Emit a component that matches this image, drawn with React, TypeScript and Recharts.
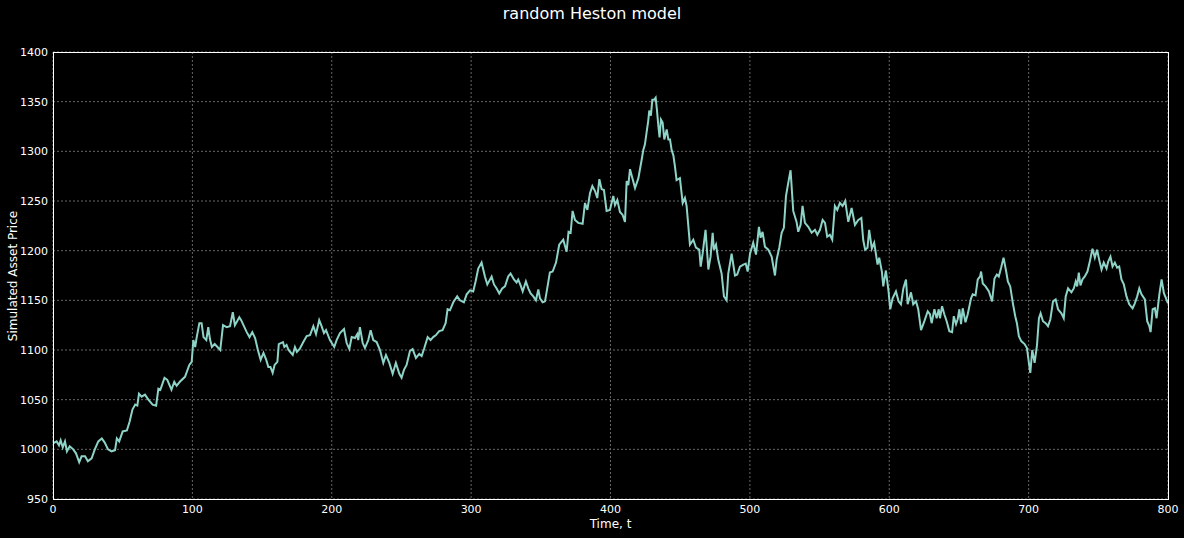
import React from 'react';
import { LineChart, Line, XAxis, YAxis, CartesianGrid } from 'recharts';

// time steps and simulated prices
const TIMES = [
  0, 2.6, 4.3, 5.5, 7, 8.6, 10, 12, 14.5, 16.5, 18.8, 20.5, 23, 25, 27.7, 30, 32.5, 35, 37, 39.5,
  42, 44.5, 45.8, 47.5, 50, 53, 55, 57, 59, 60.5, 61.7, 63.6, 66, 68.4, 71.5, 74, 75.6, 77, 80, 82,
  85, 87, 88.7, 91, 94.7, 97.8, 99.5, 100.7, 102, 103, 105, 106.6, 108, 110, 111.4, 112.6, 114, 116, 118, 120,
  122, 124.6, 127, 129, 130.5, 133.7, 135, 139, 141, 143, 145, 147, 149, 151, 153, 154.5, 156, 157.6, 159, 161,
  162, 165, 166, 167.6, 169, 172, 173.6, 175, 177, 179.6, 182, 184.4, 186.8, 188.7, 191, 192.7, 194.4, 195.9, 198.7, 201.8,
  203.5, 205.9, 208.8, 210.7, 212.6, 214.3, 216.7, 218.3, 219, 220.2, 222.2, 223.8, 226.2, 227.9, 229.8, 232.2, 234.6, 237, 238.9, 241.3,
  243.7, 246, 248.5, 250.1, 251.8, 253.7, 256.1, 258, 260.4, 262.8, 264.5, 266.2, 268.8, 270.9, 272.8, 274.8, 277.1, 279.5, 281.7, 283.1,
  284.8, 287.2, 290, 292, 294.8, 296.8, 299.2, 301.5, 303.2, 305.1, 307.5, 309.9, 311.6, 314.7, 316.4, 318.3, 320.2, 322.3, 324.3, 326.6,
  328.3, 330.7, 332.6, 333.8, 335.5, 337, 339.3, 341, 342.7, 344.6, 346.5, 348.2, 349.4, 351.3, 353, 354.6, 356.5, 358.5, 360.9, 363.2,
  366.1, 368.5, 369.9, 371.4, 372.8, 374.5, 376.9, 380, 381.7, 383.4, 385.3, 387, 388.9, 390.5, 392, 393.6, 395.3, 397.2, 399.6, 402,
  403.2, 404.9, 406.8, 408.7, 410.4, 411.6, 412.8, 414, 417.6, 420, 422.3, 423.5, 424.7, 425.9, 427.1, 427.8, 429, 430, 431.4, 432.4,
  433.3, 434.3, 435.2, 436.2, 437.4, 438.6, 440.3, 441.5, 442.7, 443.9, 445.1, 446.3, 447.4, 449.8, 451.8, 453.4, 454.6, 457, 459.4, 461.3,
  463.7, 464.7, 466.1, 468.2, 470.2, 471.8, 473.3, 474.2, 475.7, 477.3, 479.7, 481.4, 483.3, 484.5, 486.9, 489.3, 490.9, 492.9, 495.3, 497,
  498.4, 500.1, 502.4, 504.4, 506.5, 507.7, 509.1, 510.8, 513.2, 515.6, 518, 519.2, 521.1, 522.8, 524.4, 525.9, 527.5, 529.2, 531.1, 533.5,
  534.7, 536.4, 537.8, 539.5, 541.9, 544.3, 546.7, 548.4, 550.3, 552.2, 553.9, 555.5, 557.4, 559.1, 561, 562.7, 564.6, 566.5, 568.4, 570.6,
  573, 575.4, 577.8, 580, 581.3, 582.7, 584.4, 585.6, 587.5, 589.2, 591.6, 592.8, 594.7, 595.7, 597.6, 599.5, 600.7, 602.4, 604.8, 606.7,
  608.4, 610.1, 612, 613.2, 615.6, 617.2, 619.2, 620.8, 622.8, 625.2, 627.6, 629.2, 630.4, 632.4, 634, 635.5, 636.4, 637.9, 639.5, 641.2,
  643.1, 645.1, 646.3, 647.9, 649.1, 650.3, 651.5, 652.7, 654.7, 656.3, 658.7, 659.9, 661.9, 663.5, 665.2, 665.9, 667.1, 669.1, 671.5, 673.8,
  675.5, 677.2, 678.6, 680.3, 682, 683.9, 685.1, 686.8, 688.7, 690.4, 691.6, 693, 694.7, 697.1, 698.8, 700.2, 701.2, 702.6, 704.3, 706,
  707.4, 708.6, 710.3, 712.2, 713.9, 715.6, 717.5, 719.4, 721.1, 723.5, 725.2, 726.6, 728.3, 730.7, 732.4, 733.8, 734.8, 736, 737.2, 738.6,
  740.3, 742.2, 743.9, 745.8, 747.5, 749.1, 750.6, 752.3, 753.9, 755.9, 757.1, 758.7, 760.2, 761.9, 763.5, 765, 766.6, 768.3, 770.2, 772.2,
  774.6, 776.2, 777.9, 779.4, 781, 783.4, 785.1, 786.6, 787.5, 789, 790.6, 791.8, 793.8, 795.4, 797.1, 798.6, 800,
];

const PRICES = [
  1006, 1008, 1004, 1009, 1002, 1008, 998, 1003, 1000, 996, 987, 993, 993, 988, 991, 1000, 1008, 1011, 1007, 1000,
  998, 999, 1011, 1008, 1018, 1019, 1028, 1040, 1045, 1044, 1056, 1053, 1055, 1050, 1045, 1044, 1061, 1060, 1072, 1070,
  1060, 1068, 1064, 1068, 1073, 1085, 1088, 1110, 1103, 1112, 1127, 1127, 1113, 1110, 1123, 1111, 1103, 1106, 1103, 1100,
  1125, 1123, 1124, 1138, 1125, 1133, 1130, 1118, 1113, 1118, 1112, 1100, 1090, 1097, 1090, 1083, 1083, 1077, 1085, 1088,
  1106, 1108, 1103, 1105, 1100, 1095, 1103, 1098, 1101, 1108, 1114, 1115, 1124, 1116, 1130, 1124, 1117, 1120, 1110, 1103,
  1110, 1117, 1121, 1107, 1101, 1113, 1112, 1116, 1110, 1123, 1107, 1102, 1110, 1120, 1110, 1108, 1100, 1087, 1095, 1087,
  1076, 1087, 1076, 1072, 1080, 1085, 1099, 1101, 1092, 1096, 1094, 1101, 1113, 1110, 1113, 1115, 1119, 1120, 1127, 1141,
  1140, 1148, 1154, 1150, 1148, 1156, 1160, 1159, 1169, 1182, 1188, 1174, 1166, 1174, 1166, 1162, 1157, 1162, 1164, 1174,
  1177, 1171, 1168, 1171, 1165, 1159, 1169, 1162, 1157, 1154, 1150, 1161, 1152, 1148, 1149, 1162, 1178, 1179, 1188, 1206,
  1211, 1199, 1219, 1218, 1240, 1231, 1228, 1227, 1248, 1241, 1258, 1265, 1260, 1253, 1272, 1262, 1261, 1240, 1241, 1255,
  1246, 1251, 1239, 1236, 1229, 1270, 1266, 1282, 1263, 1273, 1291, 1301, 1307, 1319, 1331, 1341, 1336, 1352, 1352, 1354,
  1342, 1326, 1314, 1332, 1329, 1312, 1322, 1312, 1312, 1301, 1296, 1284, 1271, 1273, 1248, 1253, 1245, 1206, 1211, 1203,
  1201, 1184, 1197, 1221, 1181, 1194, 1218, 1201, 1206, 1191, 1177, 1154, 1150, 1177, 1197, 1175, 1176, 1184, 1186, 1187,
  1179, 1197, 1208, 1196, 1224, 1213, 1219, 1204, 1201, 1194, 1175, 1191, 1203, 1218, 1223, 1255, 1268, 1281, 1240, 1229,
  1219, 1226, 1245, 1228, 1224, 1218, 1221, 1216, 1221, 1231, 1228, 1214, 1216, 1211, 1245, 1241, 1248, 1245, 1250, 1229,
  1243, 1226, 1231, 1233, 1211, 1201, 1203, 1221, 1202, 1208, 1186, 1193, 1179, 1164, 1180, 1159, 1141, 1152, 1159, 1149,
  1146, 1162, 1171, 1146, 1158, 1146, 1149, 1141, 1120, 1129, 1139, 1136, 1127, 1141, 1132, 1141, 1132, 1144, 1136, 1129,
  1119, 1118, 1134, 1126, 1131, 1141, 1126, 1142, 1128, 1136, 1152, 1156, 1155, 1171, 1174, 1179, 1167, 1164, 1159, 1149,
  1172, 1176, 1174, 1183, 1193, 1179, 1169, 1164, 1147, 1134, 1127, 1114, 1109, 1106, 1102, 1087, 1077, 1100, 1087, 1105,
  1132, 1137, 1129, 1127, 1124, 1131, 1149, 1151, 1141, 1137, 1132, 1154, 1162, 1158, 1162, 1169, 1164, 1178, 1165, 1171,
  1174, 1179, 1189, 1202, 1193, 1201, 1191, 1181, 1188, 1182, 1189, 1194, 1184, 1188, 1183, 1184, 1171, 1166, 1154, 1146,
  1142, 1147, 1154, 1162, 1156, 1151, 1129, 1124, 1118, 1141, 1142, 1132, 1156, 1171, 1157, 1152, 1147,
];

const X_TICKS = [0, 100, 200, 300, 400, 500, 600, 700, 800];
const Y_TICKS = [950, 1000, 1050, 1100, 1150, 1200, 1250, 1300, 1350, 1400];

const data = TIMES.map((t, i) => ({ t, price: PRICES[i] }));

const FONT = '"DejaVu Sans", sans-serif';
const tickStyle = { fill: '#ffffff', fontSize: 11, fontFamily: FONT };

export default function App() {
  return (
    <div style={{ position: 'absolute', left: 0, top: 0, width: 1184, height: 538, background: '#000', fontFamily: FONT }}>
      <div style={{ position: 'absolute', left: 0, width: 1184, top: 4, textAlign: 'center', color: '#fff', fontSize: 16 }}>
        random Heston model
      </div>
      <LineChart width={1184} height={538} data={data} margin={{ top: 52, right: 16, bottom: 9, left: 8 }}>
        <CartesianGrid stroke="#666" strokeDasharray="2 2" />
        <XAxis
          dataKey="t"
          type="number"
          domain={[0, 800]}
          ticks={X_TICKS}
          height={30}
          tickSize={0}
          tickMargin={6}
          tick={tickStyle}
          axisLine={false}
        />
        <YAxis
          type="number"
          domain={[950, 1400]}
          ticks={Y_TICKS}
          width={45}
          tickSize={0}
          tickMargin={5}
          tick={tickStyle}
          axisLine={false}
        />
        <Line
          type="linear"
          dataKey="price"
          stroke="#8dd3c7"
          strokeWidth={2}
          dot={false}
          isAnimationActive={false}
        />
      </LineChart>
      {/* white frame round the plot area */}
      <div
        style={{
          position: 'absolute', left: 53, top: 52, width: 1116, height: 448,
          border: '1px solid #fff', boxSizing: 'border-box', pointerEvents: 'none',
        }}
      />
      <div style={{ position: 'absolute', left: 53, width: 1115, top: 517, textAlign: 'center', color: '#fff', fontSize: 12 }}>
        Time, t
      </div>
      <div
        style={{
          position: 'absolute', left: 13, top: 276, color: '#fff', fontSize: 12, whiteSpace: 'nowrap',
          transform: 'translate(-50%, -50%) rotate(-90deg)',
        }}
      >
        Simulated Asset Price
      </div>
    </div>
  );
}
